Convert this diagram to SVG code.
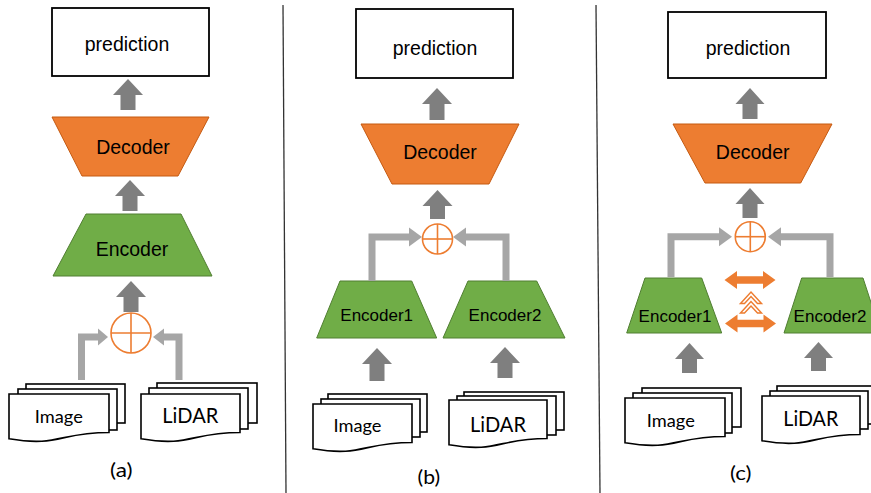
<svg xmlns="http://www.w3.org/2000/svg" width="871" height="493" viewBox="0 0 871 493">
<style>
.box{fill:#fff;stroke:#000;stroke-width:1.8}
.dec{fill:#ED7D31;stroke:#C55A11;stroke-width:1}
.enc{fill:#70AD47;stroke:#507E32;stroke-width:1}
.doc{fill:#fff;stroke:#000;stroke-width:1.6;stroke-linejoin:miter}
.t{font-family:"Liberation Sans",Arial,sans-serif;fill:#000;text-anchor:middle}
.c{font-family:Lato,"Open Sans",sans-serif;fill:#000;text-anchor:middle}
.dark{fill:#7F7F7F}
.lt{fill:none;stroke:#A6A6A6;stroke-width:7}
.lth{fill:#A6A6A6}
.op{fill:#fff;stroke:#ED7D31;stroke-width:1.6}
.opl{stroke:#ED7D31;stroke-width:1.6}
.or{fill:#ED7D31}
.chev{fill:#fff;stroke:#ED7D31;stroke-width:1.5;stroke-linejoin:miter}
.sep{stroke:#333;stroke-width:1.3}
</style>
<rect width="871" height="493" fill="#fff"/>

<g id="separators">
<line class="sep" x1="283" y1="5" x2="286" y2="493"/>
<line class="sep" x1="596" y1="5" x2="600" y2="493"/>
</g>

<!-- Panel (a) -->
<g id="a-prediction"><rect class="box" x="52" y="8" width="157" height="68"/><text class="t" x="127" y="50.5" font-size="19.5">prediction</text></g>
<g id="a-decoder"><polygon class="dec" points="52,117 209,117 178,176 82,176"/><text class="t" x="133" y="154" font-size="19.5">Decoder</text></g>
<g id="a-encoder"><polygon class="enc" points="86,214 181,214 212,276 53,276"/><text class="t" x="132" y="256" font-size="19.5">Encoder</text></g>
<g id="a-plus"><circle class="op" cx="131" cy="333" r="20"/><line class="opl" x1="111" y1="333" x2="151" y2="333"/><line class="opl" x1="131" y1="313" x2="131" y2="353"/></g>
<g id="a-image">
<rect class="doc" x="26" y="384" width="99" height="39"/>
<rect class="doc" x="18" y="389" width="99" height="41"/>
<path class="doc" d="M9,394 H109 V432.5 C59,432.5 59,447.1 9,438.8 Z"/>
<text class="c" x="58.8" y="422.7" font-size="17" textLength="48" lengthAdjust="spacingAndGlyphs">Image</text>
</g>
<g id="a-lidar">
<rect class="doc" x="157" y="383" width="100" height="40"/>
<rect class="doc" x="149" y="388" width="99" height="41"/>
<path class="doc" d="M141,394 H240 V432.5 C190.5,432.5 190.5,447.1 141,438.8 Z"/>
<text class="c" x="190.3" y="423.3" font-size="21" textLength="56" lengthAdjust="spacingAndGlyphs">LiDAR</text>
</g>
<text id="a-label" class="c" x="121.3" y="477" font-size="20" textLength="22.5" lengthAdjust="spacingAndGlyphs">(a)</text>

<!-- Panel (b) -->
<g id="b-prediction"><rect class="box" x="356" y="9" width="157" height="69"/><text class="t" x="435" y="55" font-size="19.5">prediction</text></g>
<g id="b-decoder"><polygon class="dec" points="361,124 519,124 489,184 392,184"/><text class="t" x="440" y="159.3" font-size="19.5">Decoder</text></g>
<g id="b-plus"><circle class="op" cx="437.5" cy="239" r="15"/><line class="opl" x1="422.5" y1="239" x2="452.5" y2="239"/><line class="opl" x1="437.5" y1="224" x2="437.5" y2="254"/></g>
<g id="b-encoder1"><polygon class="enc" points="340,281 411.7,281 436.7,338 316.7,338"/><text class="t" x="376.7" y="320.7" font-size="17">Encoder1</text></g>
<g id="b-encoder2"><polygon class="enc" points="468,281 536.7,281 565,338 443,338"/><text class="t" x="505" y="320.7" font-size="17">Encoder2</text></g>
<g id="b-image">
<rect class="doc" x="328" y="394" width="99" height="38"/>
<rect class="doc" x="321" y="399" width="99" height="38"/>
<path class="doc" d="M313,404 H412 V442.5 C362.5,442.5 362.5,457.1 313,448.8 Z"/>
<text class="c" x="357.5" y="432.3" font-size="17" textLength="48" lengthAdjust="spacingAndGlyphs">Image</text>
</g>
<g id="b-lidar">
<rect class="doc" x="464" y="392" width="100" height="38"/>
<rect class="doc" x="457" y="396" width="99" height="39"/>
<path class="doc" d="M449,400 H547 V438.5 C498,438.5 498,453.1 449,444.8 Z"/>
<text class="c" x="498" y="432.3" font-size="21" textLength="56" lengthAdjust="spacingAndGlyphs">LiDAR</text>
</g>
<text id="b-label" class="c" x="428.8" y="484" font-size="20" textLength="22.5" lengthAdjust="spacingAndGlyphs">(b)</text>

<!-- Panel (c) -->
<g id="c-prediction"><rect class="box" x="668" y="12" width="158" height="66"/><text class="t" x="748" y="55" font-size="19.5">prediction</text></g>
<g id="c-decoder"><polygon class="dec" points="673,124 832,124 800.7,183 705,183"/><text class="t" x="752.7" y="159.3" font-size="19.5">Decoder</text></g>
<g id="c-plus"><circle class="op" cx="750.3" cy="236.7" r="15"/><line class="opl" x1="735.3" y1="236.7" x2="765.3" y2="236.7"/><line class="opl" x1="750.3" y1="221.7" x2="750.3" y2="251.7"/></g>
<g id="c-encoder1"><polygon class="enc" points="645,278 701.7,278 721.7,333 626.7,333"/><text class="t" x="675" y="322" font-size="17">Encoder1</text></g>
<g id="c-encoder2"><polygon class="enc" points="801.7,278 863,278 881,333 784,333"/><text class="t" x="830" y="322" font-size="17">Encoder2</text></g>
<g id="c-image">
<rect class="doc" x="642" y="388" width="99" height="39"/>
<rect class="doc" x="633" y="393" width="99" height="40"/>
<path class="doc" d="M625,398 H725 V436.5 C675,436.5 675,451.1 625,442.8 Z"/>
<text class="c" x="670.8" y="426.7" font-size="17" textLength="48" lengthAdjust="spacingAndGlyphs">Image</text>
</g>
<g id="c-lidar">
<rect class="doc" x="777" y="386" width="100" height="38"/>
<rect class="doc" x="770" y="391" width="98" height="38"/>
<path class="doc" d="M762,396 H860 V434.5 C811,434.5 811,449.1 762,440.8 Z"/>
<text class="c" x="810.8" y="425.7" font-size="21" textLength="55" lengthAdjust="spacingAndGlyphs">LiDAR</text>
</g>
<text id="c-label" class="c" x="740.8" y="480" font-size="20" textLength="21.5" lengthAdjust="spacingAndGlyphs">(c)</text>

<g id="connectors">
<!-- dark block arrows -->
<path class="dark" d="M128,79 L143,95 L135.5,95 L135.5,110 L120.5,110 L120.5,95 L113,95 Z"/>
<path class="dark" d="M130,180 L145,196 L137.5,196 L137.5,211 L122.5,211 L122.5,196 L115,196 Z"/>
<path class="dark" d="M131,281 L146,297 L138.5,297 L138.5,312 L123.5,312 L123.5,297 L116,297 Z"/>
<path class="dark" d="M437,88 L452,104 L444.5,104 L444.5,120 L429.5,120 L429.5,104 L422,104 Z"/>
<path class="dark" d="M437.5,190 L452.5,206 L445,206 L445,219 L430,219 L430,206 L422.5,206 Z"/>
<path class="dark" d="M377,348 L392,364 L384.5,364 L384.5,381 L369.5,381 L369.5,364 L362,364 Z"/>
<path class="dark" d="M505,347 L520,363 L512.5,363 L512.5,378 L497.5,378 L497.5,363 L490,363 Z"/>
<path class="dark" d="M750,88 L764.5,104 L757.5,104 L757.5,119 L742.5,119 L742.5,104 L735.5,104 Z"/>
<path class="dark" d="M750,188 L764.5,204 L757.5,204 L757.5,218 L742.5,218 L742.5,204 L735.5,204 Z"/>
<path class="dark" d="M689.5,343 L704,359 L697,359 L697,373 L682,373 L682,359 L675,359 Z"/>
<path class="dark" d="M818.5,342 L833,358 L826,358 L826,371 L811,371 L811,358 L804,358 Z"/>
<!-- light elbow arrows -->
<path class="lt" d="M81.5,380 V337 H99"/>
<polygon class="lth" points="108,337 98,328.5 98,345.5"/>
<path class="lt" d="M179,380 V337 H163"/>
<polygon class="lth" points="153,337 164,328.5 164,345.5"/>
<path class="lt" d="M372,281 V237 H410"/>
<polygon class="lth" points="422,237 409,227.5 409,246.5"/>
<path class="lt" d="M506,281 V237 H466"/>
<polygon class="lth" points="453,237 466,227.5 466,246.5"/>
<path class="lt" d="M671,277 V236.7 H720"/>
<polygon class="lth" points="732,236.7 719,227.2 719,246.2"/>
<path class="lt" d="M830,277 V236.7 H780"/>
<polygon class="lth" points="768,236.7 781,227.2 781,246.2"/>
<!-- orange double arrows -->
<path class="or" d="M724.5,280 L737,271 L737,276.2 L763,276.2 L763,271 L775.5,280 L763,289 L763,283.8 L737,283.8 L737,289 Z"/>
<path class="or" d="M725,323.5 L737.5,314.5 L737.5,319.7 L763.5,319.7 L763.5,314.5 L776,323.5 L763.5,332.5 L763.5,327.3 L737.5,327.3 L737.5,332.5 Z"/>
<polygon class="chev" points="740.5,303.5 751,292 761.5,303.5 757.5,303.5 751,296.5 744.5,303.5"/>
<polygon class="chev" points="740.5,313 751,301.5 761.5,313 757.5,313 751,306 744.5,313"/>
</g>
</svg>
